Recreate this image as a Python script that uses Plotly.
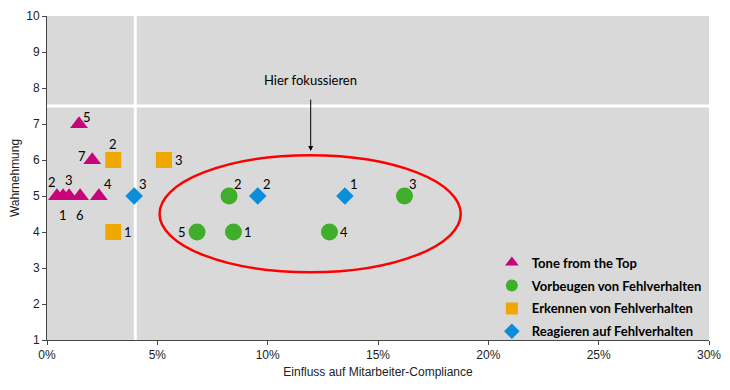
import plotly.graph_objects as go

# Data (x in %, y = Wahrnehmung)
tone_x = [0.73, 0.45, 1.0, 2.35, 1.45, 1.5, 2.05]
tone_y = [5, 5, 5, 5, 7, 5, 6]
tone_lbl = ["1", "2", "3", "4", "5", "6", "7"]

vor_x = [8.45, 8.25, 16.2, 12.8, 6.8]
vor_y = [4, 5, 5, 4, 4]
vor_lbl = ["1", "2", "3", "4", "5"]

erk_x = [3.0, 3.0, 5.3]
erk_y = [4, 6, 6]
erk_lbl = ["1", "2", "3"]

rea_x = [13.5, 9.55, 3.95]
rea_y = [5, 5, 5]
rea_lbl = ["1", "2", "3"]

x_ticks = [0, 5, 10, 15, 20, 25, 30]
x_tick_text = ["0%", "5%", "10%", "15%", "20%", "25%", "30%"]

# label placement (styling)
tone_pos = ["b", "tl", "t", "tr", "tr2", "b", "l2"]
vor_pos = ["r", "tr", "tr", "r", "l"]
erk_pos = ["r", "t", "r"]
rea_pos = ["tr", "tr", "tr"]
OFFS = {"tr": (9, 12), "tl": (-5, 14), "t": (0, 16), "b": (0, -19), "r": (15, 0),
        "l": (-15, 0), "tr2": (8, 7), "l2": (-10, 4)}

series = [
    ("Tone from the Top", tone_x, tone_y, tone_lbl, tone_pos, "triangle-up", "#C8037C", 15.5),
    ("Vorbeugen von Fehlverhalten", vor_x, vor_y, vor_lbl, vor_pos, "circle", "#3FAE2A", 17),
    ("Erkennen von Fehlverhalten", erk_x, erk_y, erk_lbl, erk_pos, "square", "#EFA800", 16),
    ("Reagieren auf Fehlverhalten", rea_x, rea_y, rea_lbl, rea_pos, "diamond", "#0A8ED9", 13.5),
]

LBL_FONT = dict(family="Lato", size=13, color="black")

fig = go.Figure()

# white divider lines
fig.add_shape(type="line", x0=4, x1=4, y0=1, y1=10, line=dict(color="white", width=3), layer="below")
fig.add_shape(type="line", x0=0, x1=30, y0=7.5, y1=7.5, line=dict(color="white", width=3), layer="below")

for i, (name, xs, ys, lbl, pos, sym, col, sz) in enumerate(series):
    fig.add_trace(go.Scatter(
        x=xs, y=ys, mode="markers", name=name, legendgroup=f"g{i}",
        marker=dict(symbol=sym, color=col, size=sz, line=dict(width=0)),
    ))
    for xv, yv, t, p in zip(xs, ys, lbl, pos):
        dx, dy = OFFS[p]
        fig.add_annotation(x=xv, y=yv, text=t, showarrow=False, xshift=dx, yshift=dy,
                           font=LBL_FONT)

# focus ellipse
fig.add_shape(type="circle", x0=5.1, x1=18.75, y0=2.88, y1=6.13,
              line=dict(color="#FF0000", width=2.5))

# arrow + annotation
fig.add_annotation(x=11.95, y=6.25, ax=11.95, ay=7.72, xref="x", yref="y", axref="x", ayref="y",
                   text="", showarrow=True, arrowhead=2, arrowsize=1, arrowwidth=1, arrowcolor="black")
fig.add_annotation(x=11.95, y=8.22, xref="x", yref="y", text="Hier fokussieren", showarrow=False,
                   font=LBL_FONT)

AX_FONT = dict(family="Liberation Sans", size=12, color="#222")

fig.update_layout(
    width=722, height=382,
    margin=dict(l=39, r=21, t=8, b=50),
    paper_bgcolor="white", plot_bgcolor="#D9D9D9",
    font=AX_FONT,
    showlegend=True,
    legend=dict(x=0.672, y=0.285, xanchor="left", yanchor="top", bgcolor="rgba(0,0,0,0)",
                font=dict(family="Lato", size=13, color="black", weight="bold"),
                itemsizing="constant", tracegroupgap=3),
    xaxis=dict(range=[0, 30], tickvals=x_ticks, ticktext=x_tick_text, automargin=False,
               showgrid=False, zeroline=False, showline=True, linecolor="#444", linewidth=1,
               ticks="outside", ticklen=4, tickcolor="#444", tickfont=AX_FONT,
               title=dict(text="Einfluss auf Mitarbeiter-Compliance", standoff=6, font=AX_FONT)),
    yaxis=dict(range=[1, 10], dtick=1, showgrid=False, zeroline=False, showline=True, automargin=False,
               linecolor="#444", linewidth=1, ticks="outside", ticklen=4, tickcolor="#444",
               tickfont=AX_FONT,
               title=dict(text="Wahrnehmung", standoff=10, font=AX_FONT)),
)

fig.write_html("out.html")
